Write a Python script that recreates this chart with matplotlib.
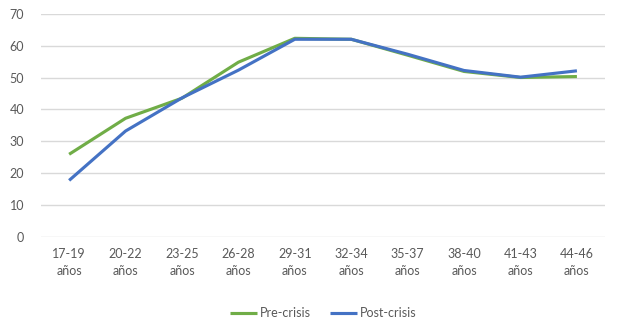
import matplotlib.pyplot as plt

plt.rcParams['font.family'] = ['Lato', 'DejaVu Sans']

categories = ["17-19\naños", "20-22\naños", "23-25\naños", "26-28\naños", "29-31\naños",
              "32-34\naños", "35-37\naños", "38-40\naños", "41-43\naños", "44-46\naños"]
pre_crisis = [25.9, 37.2, 43.5, 54.8, 62.3, 62.0, 57.0, 51.9, 50.0, 50.3]
post_crisis = [17.7, 33.2, 43.6, 52.3, 62.0, 62.0, 57.3, 52.2, 50.1, 52.1]

fig = plt.figure(figsize=(6.2, 3.28), dpi=100)
ax = fig.add_axes([0.066, 0.278, 0.91, 0.68])

x = range(len(categories))
ax.plot(x, pre_crisis, color='#70AD47', lw=2.25, label='Pre-crisis', solid_capstyle='butt')
ax.plot(x, post_crisis, color='#4472C4', lw=2.25, label='Post-crisis', solid_capstyle='butt')

ax.set_xlim(-0.5, len(categories) - 0.5)
ax.set_ylim(0, 70)
ax.set_yticks(range(0, 71, 10))
ax.set_xticks(list(x))
ax.set_xticklabels(categories, linespacing=1.5)
ax.grid(axis='y', color='#D9D9D9', lw=1)
ax.set_axisbelow(True)
for s in ax.spines.values():
    s.set_visible(False)
ax.tick_params(length=0, colors='#595959', labelsize=9)
ax.tick_params(axis='x', pad=8)
ax.tick_params(axis='y', pad=12)

ax.legend(loc='upper center', bbox_to_anchor=(0.5, -0.265), ncol=2, frameon=False,
          fontsize=9, labelcolor='#595959', handlelength=2.2, handletextpad=0.2,
          columnspacing=1.5)

fig.savefig('out.png')
